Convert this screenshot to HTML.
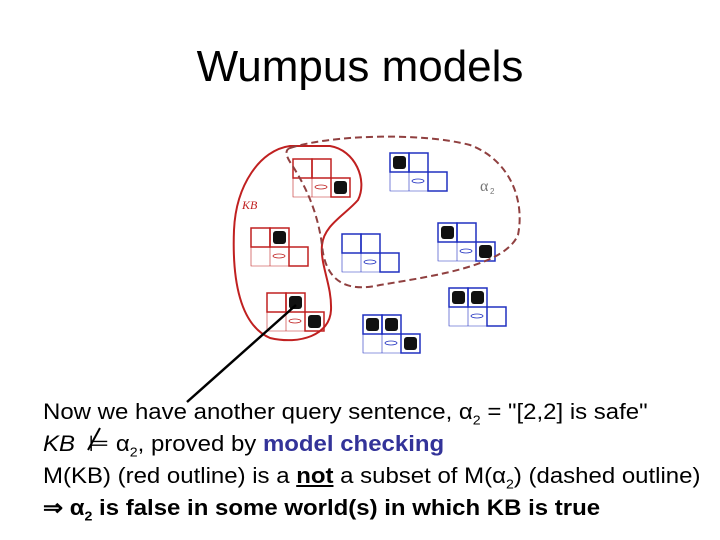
<!DOCTYPE html>
<html><head><style>
body{margin:0;width:720px;height:540px;background:#fff;overflow:hidden;font-family:"Liberation Sans",sans-serif;}
.t{position:absolute;left:0;width:720px;text-align:center;top:42px;font-size:44px;}
.l{position:absolute;left:43px;font-size:22px;white-space:nowrap;transform:scaleX(1.09);transform-origin:0 0;}
</style></head><body>
<div class="t">Wumpus models</div>
<svg width="720" height="540" style="position:absolute;left:0;top:0">
<defs>
<g id="gr" fill="none" stroke-width="1.5">
<rect x="0" y="0" width="19" height="19"/><rect x="19" y="0" width="19" height="19"/><rect x="38" y="19" width="19" height="19"/>
<path d="M0 19V38H38M19 19V38" stroke-width="0.6"/>
<ellipse cx="28" cy="28" rx="6" ry="2" stroke-width="0.8"/>
</g>
</defs>
<g stroke="#c02020"><use href="#gr" x="293" y="159"/><use href="#gr" x="251" y="228"/><use href="#gr" x="267" y="293"/></g>
<g stroke="#2030c0"><use href="#gr" x="390" y="153"/><use href="#gr" x="342" y="234"/><use href="#gr" x="438" y="223"/><use href="#gr" x="449" y="288"/><use href="#gr" x="363" y="315"/></g>
<g fill="#111">
<rect x="334" y="181" width="13" height="13" rx="3"/>
<rect x="273" y="231" width="13" height="13" rx="3"/>
<rect x="289" y="296" width="13" height="13" rx="3"/><rect x="308" y="315" width="13" height="13" rx="3"/>
<rect x="393" y="156" width="13" height="13" rx="3"/>
<rect x="441" y="226" width="13" height="13" rx="3"/><rect x="479" y="245" width="13" height="13" rx="3"/>
<rect x="452" y="291" width="13" height="13" rx="3"/><rect x="471" y="291" width="13" height="13" rx="3"/>
<rect x="366" y="318" width="13" height="13" rx="3"/><rect x="385" y="318" width="13" height="13" rx="3"/><rect x="404" y="337" width="13" height="13" rx="3"/>
</g>
<path d="M290 146C260 150 236 185 234 230C232 280 240 325 270 338C300 345 330 335 331 310C332 285 320 265 322 245C324 225 345 215 358 200C368 180 355 150 330 146Z" fill="none" stroke="#c02020" stroke-width="2"/>
<path d="M290 148C330 135 420 132 470 145C510 160 525 200 518 235C505 265 440 275 380 285C345 293 325 280 322 245C318 215 308 190 292 165C285 155 285 150 290 148Z" fill="none" stroke="#904040" stroke-width="2" stroke-dasharray="7,4"/>
<text x="242" y="209" font-family="Liberation Serif" font-style="italic" font-size="12" fill="#c02020">KB</text>
<text x="480" y="191" font-family="Liberation Serif" font-size="16" fill="#777">α</text><text x="490" y="194" font-size="8" fill="#777">2</text>
<line x1="187" y1="402" x2="296" y2="305" stroke="#000" stroke-width="2.5"/>
<line x1="88" y1="450" x2="100" y2="428" stroke="#000" stroke-width="2"/>
</svg>
<div class="l" style="top:399px">Now we have another query sentence, α<sub style="font-size:13px">2</sub> = "[2,2] is safe"</div>
<div class="l" style="top:431px"><i>KB</i> &nbsp;⊨ α<sub style="font-size:13px">2</sub>, proved by <b style="color:#333399">model checking</b></div>
<div class="l" style="top:463px">M(KB) (red outline) is a <b><u>not</u></b> a subset of M(α<sub style="font-size:13px">2</sub>) (dashed outline)</div>
<div class="l" style="top:495px"><b>⇒ α<sub style="font-size:13px">2</sub> is false in some world(s) in which KB is true</b></div>
</body></html>
